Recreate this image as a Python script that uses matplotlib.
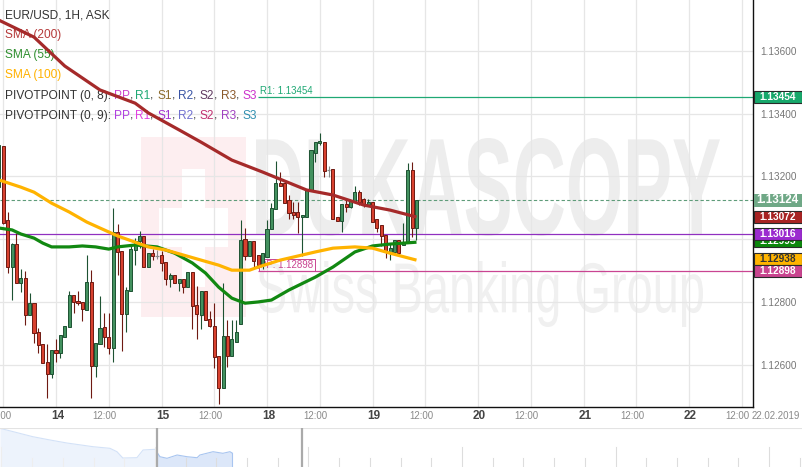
import matplotlib
matplotlib.use('Agg')
import matplotlib.pyplot as plt
import matplotlib.transforms as mtransforms
from matplotlib.patches import Rectangle, PathPatch
from matplotlib.textpath import TextPath
from matplotlib.font_manager import FontProperties, fontManager
import numpy as np

names = {f.name for f in fontManager.ttflist}
BASE = 'Liberation Sans' if 'Liberation Sans' in names else 'DejaVu Sans'
NARROW = 'Liberation Sans Narrow' if 'Liberation Sans Narrow' in names else BASE
plt.rcParams['font.family'] = BASE

# ---- data: EUR/USD 1H candles (13 Feb 11:00 .. 19 Feb 10:00, weekend skipped) ----
opens = [
    1.13167, 1.13297, 1.13062, 1.12913, 1.12985, 1.12861, 1.12877, 1.12760, 1.12797, 1.12706,
    1.12667, 1.12611, 1.12572, 1.12649, 1.12639, 1.12690, 1.12722, 1.12823, 1.12804, 1.12801,
    1.12776, 1.12865, 1.12598, 1.12667, 1.12722, 1.12690, 1.12655, 1.13024, 1.12963, 1.12763,
    1.12836, 1.12966, 1.12995, 1.13011, 1.12913, 1.12957, 1.12947, 1.12950, 1.12928, 1.12874,
    1.12887, 1.12861, 1.12874, 1.12849, 1.12897, 1.12791, 1.12760, 1.12836, 1.12747, 1.12725,
    1.12630, 1.12528, 1.12693, 1.12630, 1.12674, 1.12731, 1.13001, 1.12947, 1.12995, 1.12950,
    1.12919, 1.12944, 1.13033, 1.13097, 1.13179, 1.13179, 1.13125, 1.13088, 1.13088, 1.13071,
    1.13071, 1.13157, 1.13275, 1.13307, 1.13310, 1.13221, 1.13224, 1.13071, 1.13059, 1.13113,
    1.13103, 1.13119, 1.13151, 1.13129, 1.13110, 1.13119, 1.13065, 1.13046, 1.13014, 1.12960,
    1.12960, 1.12998, 1.12982, 1.12991, 1.13221, 1.13036]
highs = [
    1.13300, 1.13297, 1.13088, 1.12988, 1.13020, 1.12906, 1.12900, 1.12829, 1.12797, 1.12718,
    1.12667, 1.12667, 1.12649, 1.12683, 1.12696, 1.12725, 1.12836, 1.12823, 1.12836, 1.12801,
    1.12950, 1.12903, 1.12670, 1.12820, 1.12766, 1.12766, 1.13100, 1.13049, 1.12963, 1.12849,
    1.12979, 1.13004, 1.13027, 1.13011, 1.12957, 1.12969, 1.12966, 1.12963, 1.12928, 1.12893,
    1.12887, 1.12874, 1.12874, 1.12897, 1.12897, 1.12852, 1.12836, 1.12836, 1.12773, 1.12797,
    1.12630, 1.12861, 1.12744, 1.12744, 1.12744, 1.13062, 1.13036, 1.12995, 1.12995, 1.12950,
    1.12957, 1.13062, 1.13116, 1.13249, 1.13214, 1.13189, 1.13141, 1.13119, 1.13119, 1.13078,
    1.13157, 1.13284, 1.13310, 1.13338, 1.13310, 1.13234, 1.13224, 1.13071, 1.13113, 1.13125,
    1.13122, 1.13170, 1.13157, 1.13132, 1.13129, 1.13119, 1.13065, 1.13046, 1.13014, 1.12988,
    1.12998, 1.12998, 1.13052, 1.13243, 1.13246, 1.13125]
lows = [
    1.13167, 1.13049, 1.12893, 1.12807, 1.12861, 1.12833, 1.12728, 1.12760, 1.12670, 1.12639,
    1.12607, 1.12495, 1.12559, 1.12611, 1.12623, 1.12690, 1.12722, 1.12766, 1.12791, 1.12741,
    1.12776, 1.12495, 1.12563, 1.12667, 1.12658, 1.12636, 1.12611, 1.12887, 1.12646, 1.12706,
    1.12836, 1.12919, 1.12972, 1.12913, 1.12913, 1.12935, 1.12938, 1.12900, 1.12855, 1.12849,
    1.12861, 1.12836, 1.12829, 1.12849, 1.12715, 1.12683, 1.12715, 1.12744, 1.12722, 1.12591,
    1.12477, 1.12528, 1.12595, 1.12630, 1.12674, 1.12731, 1.12935, 1.12947, 1.12913, 1.12909,
    1.12906, 1.12944, 1.13033, 1.13097, 1.13170, 1.13116, 1.13065, 1.13065, 1.13020, 1.12947,
    1.13071, 1.13157, 1.13246, 1.13300, 1.13199, 1.13199, 1.13065, 1.13059, 1.13024, 1.13088,
    1.13100, 1.13119, 1.13110, 1.13103, 1.13110, 1.13056, 1.13024, 1.12979, 1.12941, 1.12935,
    1.12950, 1.12950, 1.12982, 1.12991, 1.13008, 1.12998]
closes = [
    1.13300, 1.13052, 1.12913, 1.12985, 1.12861, 1.12877, 1.12760, 1.12797, 1.12702, 1.12664,
    1.12607, 1.12572, 1.12649, 1.12639, 1.12696, 1.12725, 1.12823, 1.12801, 1.12797, 1.12779,
    1.12865, 1.12598, 1.12670, 1.12718, 1.12690, 1.12655, 1.13024, 1.12960, 1.12763, 1.12839,
    1.12969, 1.12995, 1.13011, 1.12913, 1.12957, 1.12947, 1.12947, 1.12925, 1.12874, 1.12887,
    1.12861, 1.12874, 1.12849, 1.12897, 1.12788, 1.12763, 1.12836, 1.12744, 1.12725, 1.12626,
    1.12528, 1.12693, 1.12630, 1.12683, 1.12706, 1.12998, 1.12947, 1.12995, 1.12932, 1.12919,
    1.12957, 1.13033, 1.13100, 1.13179, 1.13170, 1.13116, 1.13084, 1.13078, 1.13071, 1.13078,
    1.13157, 1.13284, 1.13310, 1.13313, 1.13218, 1.13221, 1.13065, 1.13059, 1.13113, 1.13103,
    1.13122, 1.13151, 1.13119, 1.13110, 1.13119, 1.13056, 1.13036, 1.13011, 1.12963, 1.12972,
    1.12998, 1.12957, 1.12991, 1.13221, 1.13036, 1.13125]

# moving averages (hour index, 0 = 13 Feb 12:00)
sma200_h = [-1, 7, 14, 22, 30, 33, 40, 45, 52, 59, 69, 75, 82, 88, 94]
sma200_v = [1.13697, 1.13643, 1.13551, 1.13475, 1.13433, 1.13402, 1.13348, 1.13309,
            1.13252, 1.13214, 1.13157, 1.13141, 1.13109, 1.13093, 1.13071]
sma55_h = [-1, 2, 4, 7, 9, 11, 15, 18, 21, 24, 26, 30, 35, 37, 39, 43, 46, 49, 52, 55,
           58, 61, 65, 71, 75, 80, 84, 88, 94]
sma55_v = [1.13036, 1.13030, 1.13017, 1.13004, 1.12988, 1.12976, 1.12976, 1.12979, 1.12976,
           1.12969, 1.12976, 1.12982, 1.12976, 1.12966, 1.12956, 1.12925, 1.12893, 1.12848,
           1.12813, 1.12797, 1.12801, 1.12807, 1.12839, 1.12880, 1.12912, 1.12960, 1.12979,
           1.12985, 1.12991]
sma100_h = [-1, 4, 7, 11, 15, 19, 22, 26, 30, 33, 37, 41, 45, 49, 52, 56, 58, 63, 71, 75,
            80, 84, 88, 94]
sma100_v = [1.13189, 1.13166, 1.13150, 1.13115, 1.13087, 1.13055, 1.13036, 1.13011, 1.12991,
            1.12976, 1.12966, 1.12950, 1.12934, 1.12918, 1.12902, 1.12902, 1.12912, 1.12934,
            1.12960, 1.12972, 1.12976, 1.12972, 1.12956, 1.12934]

# pivot levels / last price
r1_level = 1.13454
pp_level = 1.12898
pp9_level = 1.13016
last_price = 1.13124
pivot_start_h = 58

# right-hand price tags: value, facecolor, textcolor (drawn in this order)
tag_values = [1.13454, 1.13072, 1.12995, 1.13016, 1.12938, 1.12898]
tag_faces = ['#17A86B', '#A82323', '#0B870B', '#9B2BCF', '#FFB400', '#C9448F']
tag_texts = ['white', 'white', 'white', 'white', '#333333', 'white']

# time axis
tick_hours = [0, 12, 24, 36, 48, 60, 72, 84, 96, 108, 120, 132, 144, 156, 168]
tick_labels = ['12:00', '14', '12:00', '15', '12:00', '18', '12:00', '19', '12:00',
               '20', '12:00', '21', '12:00', '22', '12:00']
end_date_label = '22.02.2019'
y_ticks = [1.126, 1.128, 1.130, 1.132, 1.134, 1.136]

# navigator overview series (trading days, relative level)
nav_days = [0, 1.07, 1.63, 2.18, 3.03, 3.58, 3.81, 4.0, 4.46, 4.66, 5.05, 5.21, 5.44,
            5.77, 6.09, 6.42, 6.51, 6.94, 7.26, 7.49, 7.56]
nav_levels = [38.7, 30.3, 27, 24, 20.3, 18.7, 15.3, 9, 9.3, 17, 17.7, 10.3, 8.7, 12,
              10.3, 9.3, 12, 15.3, 13.7, 15.3, 14]

# ---- figure ----
W, H = 803, 467
fig = plt.figure(figsize=(W / 100, H / 100), dpi=100)
fig.patch.set_facecolor('white')
ax = fig.add_axes([0, 60 / H, 753 / W, 407 / H])
ax.set_facecolor('white')
IDT = mtransforms.IdentityTransform()

# watermark
def fit_text(s, weight, x0, x1, ytop, ybot, color):
    tp = TextPath((0, 0), s, size=100, prop=FontProperties(family=BASE, weight=weight))
    ext = tp.get_extents()
    tr = (mtransforms.Affine2D().translate(-ext.x0, -ext.y0)
          .scale((x1 - x0) / ext.width, (ybot - ytop) / ext.height)
          .translate(x0, H - ybot))
    ax.add_patch(PathPatch(tp, transform=tr, facecolor=color, edgecolor='none', zorder=0.2))

ax.add_patch(Rectangle((141, H - 317), 105, 180, transform=IDT, facecolor='#FDEEF0',
                       edgecolor='none', zorder=0.15))
for (bx, by, bw, bh) in [(182, 169, 23, 118), (159, 208, 69, 39)]:
    ax.add_patch(Rectangle((bx, H - by - bh), bw, bh, transform=IDT, facecolor='white',
                           edgecolor='none', zorder=0.16))
fit_text('DUKASCOPY', 'bold', 256, 720, 138, 236, '#EDEDED')
fit_text('Swiss Banking Group', 'normal', 258, 703, 261, 327, '#F0F0F0')

# grid
ax.set_axisbelow(True)
ax.set_xticks(tick_hours)
ax.set_yticks(y_ticks)
ax.grid(True, color='#E6E6E6', linewidth=0.9)
ax.tick_params(axis='x', length=0, labelbottom=False)
ax.yaxis.tick_right()
ax.tick_params(axis='y', length=0, pad=5, labelsize=7.2, labelcolor='#777777')
ax.set_yticklabels([f'{v:.5f}' for v in y_ticks])
for side in ['top', 'left']:
    ax.spines[side].set_visible(False)
for side in ['right', 'bottom']:
    ax.spines[side].set_color('#111111')
    ax.spines[side].set_linewidth(1.0)

# horizontal levels
ax.axhline(pp9_level, color='#9030C0', linewidth=0.9, zorder=2)
ax.axhline(last_price, color='#5F9C7A', linewidth=0.8, linestyle=(0, (3, 2)), zorder=2)
ax.hlines(r1_level, pivot_start_h, 171, color='#1FA874', linewidth=0.9, zorder=2)
ax.hlines(pp_level, pivot_start_h, 171, color='#C94592', linewidth=0.9, zorder=2)
ax.text(pivot_start_h + 0.4, r1_level + 0.00002, f'R1: {r1_level:.5f}', color='#1FA874',
        fontsize=7, va='bottom', ha='left', zorder=2)
ax.text(pivot_start_h + 0.5, pp_level + 0.00004, f'PP: {pp_level:.5f}', color='#C94592',
        fontsize=7, va='bottom', ha='left', zorder=2,
        bbox=dict(boxstyle='square,pad=0.12', fc='none', ec='#C94592', lw=0.7))

# candles
o = np.array(opens); hi = np.array(highs); lo = np.array(lows); c = np.array(closes)
x = np.arange(len(o)) - 1
up = c > o
dn = c < o
fl = c == o
GF, GE = '#43915F', '#1D5232'
RF, RE = '#D8412F', '#6E1A12'
ax.vlines(x[up], lo[up], hi[up], color=GE, linewidth=0.8, zorder=3)
ax.vlines(x[dn], lo[dn], hi[dn], color=RE, linewidth=0.8, zorder=3)
ax.vlines(x[fl], lo[fl], hi[fl], color='#888888', linewidth=0.8, zorder=3)
ax.bar(x[up], c[up] - o[up], bottom=o[up], width=0.7, color=GF, edgecolor=GE,
       linewidth=0.7, zorder=3.1)
ax.bar(x[dn], o[dn] - c[dn], bottom=c[dn], width=0.7, color=RF, edgecolor=RE,
       linewidth=0.7, zorder=3.1)
ax.hlines(o[fl], x[fl] - 0.38, x[fl] + 0.38, color='#888888', linewidth=0.9, zorder=3.1)

# moving averages
ax.plot(sma55_h, sma55_v, color='#118811', linewidth=2.3, zorder=4, solid_capstyle='butt')
ax.plot(sma100_h, sma100_v, color='#FFB300', linewidth=2.3, zorder=4, solid_capstyle='butt')
ax.plot(sma200_h, sma200_v, color='#A52A2A', linewidth=2.3, zorder=4, solid_capstyle='butt')

ax.set_xlim(-0.74, 170.55)
ax.set_ylim(1.12467, 1.13761)

# time labels
tb = mtransforms.blended_transform_factory(ax.transData, IDT)
for hr, lab in zip(tick_hours, tick_labels):
    if lab == '12:00':
        ax.text(hr - 0.9, H - 416, lab, transform=tb, ha='center', va='center', fontsize=7,
                color='#8A8A8A', family=NARROW, clip_on=False)
    else:
        ax.text(hr + 0.3, H - 416, lab, transform=tb, ha='center', va='center', fontsize=8.5,
                color='#444444', family=NARROW, fontweight='bold', clip_on=False)
fig.text(776, H - 416, end_date_label, transform=IDT, ha='center', va='center', fontsize=7,
         color='#8A8A8A', family=NARROW)

# legend block (top left)
renderer = fig.canvas.get_renderer()
LEG = 8.6
def twidth(s):
    fp = FontProperties(family=BASE, size=LEG)
    w1 = renderer.get_text_width_height_descent(s + 'l', fp, ismath=False)[0]
    w2 = renderer.get_text_width_height_descent('l', fp, ismath=False)[0]
    return w1 - w2

def draw_parts(ypx, parts):
    prefix = ''
    for s, col in parts:
        ax.text(5 + twidth(prefix), H - ypx, s, transform=IDT, color=col, fontsize=LEG,
                va='center', ha='left', zorder=1.5)
        prefix += s

DK = '#333333'
draw_parts(15, [('EUR/USD, 1H, ASK', DK)])
draw_parts(35, [('SMA (200)', '#B53A3A')])
draw_parts(55, [('SMA (55)', '#2F8F2F')])
draw_parts(75, [('SMA (100)', '#FFB100')])
piv8 = [('PP', '#CC44CC'), ('R1', '#1FA874'), ('S1', '#8B6A2B'), ('R2', '#3A55A5'),
        ('S2', '#603A60'), ('R3', '#8B5A2B'), ('S3', '#CC33CC')]
piv9 = [('PP', '#B040E0'), ('R1', '#E040E0'), ('S1', '#A030D0'), ('R2', '#7070D0'),
        ('S2', '#C03070'), ('R3', '#A040C0'), ('S3', '#3090B0')]
for ypx, title, items in [(96, 'PIVOTPOINT (0, 8): ', piv8), (116, 'PIVOTPOINT (0, 9): ', piv9)]:
    parts = [(title, DK)]
    for i, (nm, col) in enumerate(items):
        parts.append((nm, col))
        if i < len(items) - 1:
            parts.append((', ', DK))
    draw_parts(ypx, parts)

# right price tags
def ypix(v):
    return ax.transData.transform((0, v))[1]

zo = 5
yc = ypix(last_price)
fig.add_artist(Rectangle((753.5, yc - 6.5), 48.5, 13, transform=IDT, facecolor='#6FA886',
                         edgecolor='none', zorder=zo))
fig.text(777.7, yc, f'{last_price:.5f}', transform=IDT, ha='center', va='center',
         fontsize=8.4, fontweight='bold', color='white', zorder=zo + 0.5)
for v, fc, tc in zip(tag_values, tag_faces, tag_texts):
    zo += 1
    yc = ypix(v)
    fig.add_artist(Rectangle((753.5, yc - 6), 48.5, 12, transform=IDT, facecolor=fc,
                             edgecolor='#2A2A2A', linewidth=0.8, zorder=zo))
    fig.text(777.7, yc, f'{v:.5f}', transform=IDT, ha='center', va='center', fontsize=7.3,
             fontweight='bold', color=tc, zorder=zo + 0.5)

# navigator
DAY_PX = 30.7
nav = fig.add_axes([0, 0, 1, 39 / H])
nav.set_xlim(0, W / DAY_PX)
nav.set_ylim(0, 39)
nav.axis('off')
nav.fill_between(nav_days, nav_levels, 0, color='#DCE7F9', linewidth=0, zorder=1)
nav.plot(nav_days, nav_levels, color='#A8C5F0', linewidth=0.8, zorder=1.2)
nav.plot([nav_days[-1], nav_days[-1]], [0, nav_levels[-1]], color='#A8C5F0', linewidth=0.8)
sel0, sel1 = 157 / DAY_PX, 302 / DAY_PX
nav.add_patch(Rectangle((0, 0), sel0, 39, facecolor='white', alpha=0.5, edgecolor='none', zorder=2))
for i in range(27):
    xt = 1.5 / DAY_PX + i
    top = 20 if i % 5 == 0 else 9
    nav.plot([xt, xt], [0, top], color='#DDDDDD', linewidth=0.8, zorder=1.5)
nav.axhline(38.6, color='#E3E3E3', linewidth=0.8)
for xs in (sel0, sel1):
    nav.plot([xs, xs], [0, 38.6], color='#AAAAAA', linewidth=1.6, zorder=3)

fig.savefig('out.png', dpi=100)
